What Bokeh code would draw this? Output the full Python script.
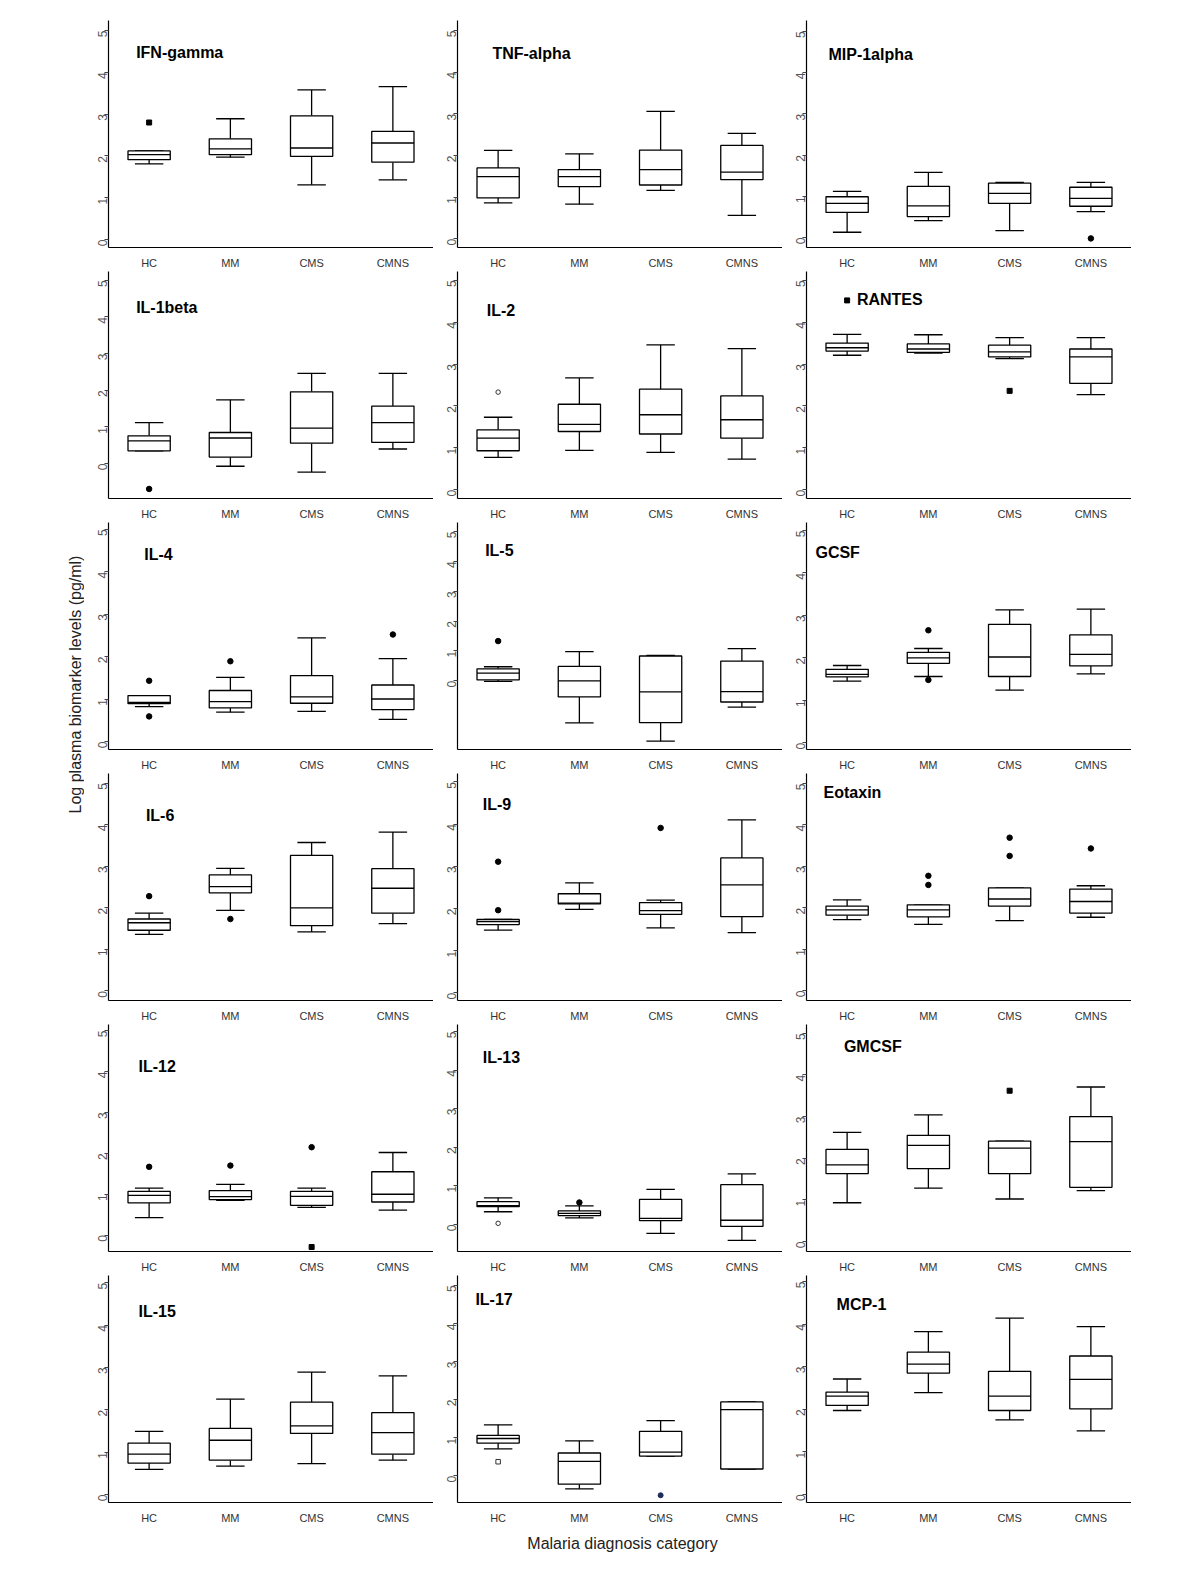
import math
from bokeh.plotting import figure
from bokeh.layouts import gridplot, column, row
from bokeh.models import Range1d, FixedTicker, Label, Spacer, ColumnDataSource
from bokeh.embed import file_html
from bokeh.resources import INLINE

# ---------------- data ----------------
categories = ["HC", "MM", "CMS", "CMNS"]
panels = ["IFN-gamma", "TNF-alpha", "MIP-1alpha",
          "IL-1beta", "IL-2", "RANTES",
          "IL-4", "IL-5", "GCSF",
          "IL-6", "IL-9", "Eotaxin",
          "IL-12", "IL-13", "GMCSF",
          "IL-15", "IL-17", "MCP-1"]
y_ticks = [0, 1, 2, 3, 4, 5]

whisker_low = [
    [1.81, 1.97, 1.31, 1.43], [0.86, 0.83, 1.16, 0.56], [0.13, 0.41, 0.17, 0.63],
    [0.35, -0.07, -0.23, 0.40], [0.77, 0.94, 0.89, 0.73], [3.21, 3.26, 3.13, 2.27],
    [0.82, 0.69, 0.71, 0.52], [-0.02, -1.41, -2.02, -0.88], [1.45, 1.56, 1.24, 1.62],
    [1.36, 1.94, 1.42, 1.62], [1.49, 1.98, 1.54, 1.43], [1.71, 1.60, 1.69, 1.77],
    [0.43, 0.85, 0.68, 0.61], [0.33, 0.17, -0.23, -0.41], [0.93, 1.28, 1.02, 1.22],
    [0.59, 0.67, 0.73, 0.81], [0.71, -0.34, 0.52, 0.18], [1.97, 2.39, 1.75, 1.49],
]
quartile1 = [
    [1.91, 2.03, 1.99, 1.85], [0.98, 1.25, 1.29, 1.42], [0.61, 0.51, 0.83, 0.76],
    [0.35, 0.18, 0.56, 0.58], [0.93, 1.39, 1.33, 1.23], [3.31, 3.28, 3.17, 2.54],
    [0.89, 0.79, 0.90, 0.75], [0.03, -0.54, -1.40, -0.71], [1.55, 1.87, 1.56, 1.81],
    [1.46, 2.36, 1.57, 1.87], [1.62, 2.11, 1.86, 1.81], [1.82, 1.78, 2.04, 1.87],
    [0.79, 0.87, 0.73, 0.81], [0.46, 0.23, 0.10, -0.05], [1.63, 1.75, 1.63, 1.30],
    [0.74, 0.81, 1.44, 0.95], [0.86, -0.22, 0.52, 0.18], [2.09, 2.85, 1.97, 2.01],
]
medians = [
    [2.03, 2.17, 2.19, 2.31], [1.49, 1.49, 1.66, 1.60], [0.83, 0.77, 1.07, 0.95],
    [0.62, 0.70, 0.97, 1.12], [1.23, 1.56, 1.79, 1.67], [3.39, 3.36, 3.29, 3.17],
    [0.92, 0.94, 1.05, 1.00], [0.26, 0.00, -0.37, -0.36], [1.61, 2.00, 2.02, 2.08],
    [1.64, 2.51, 2.00, 2.47], [1.69, 2.13, 1.95, 2.56], [1.95, 1.95, 2.21, 2.15],
    [0.97, 0.94, 0.95, 1.00], [0.49, 0.29, 0.16, 0.11], [1.84, 2.31, 2.24, 2.40],
    [0.95, 1.28, 1.62, 1.46], [0.98, 0.38, 0.62, 1.74], [2.31, 3.06, 2.31, 2.70],
]
quartile3 = [
    [2.12, 2.41, 2.96, 2.59], [1.70, 1.66, 2.13, 2.24], [0.99, 1.24, 1.32, 1.22],
    [0.76, 0.85, 1.96, 1.57], [1.43, 2.04, 2.40, 2.24], [3.50, 3.48, 3.45, 3.36],
    [1.08, 1.20, 1.55, 1.33], [0.40, 0.48, 0.83, 0.66], [1.73, 2.13, 2.79, 2.54],
    [1.73, 2.79, 3.26, 2.94], [1.74, 2.35, 2.14, 3.20], [2.04, 2.07, 2.48, 2.45],
    [1.07, 1.09, 1.07, 1.55], [0.59, 0.35, 0.65, 1.03], [2.21, 2.55, 2.41, 3.00],
    [1.21, 1.56, 2.18, 1.93], [1.06, 0.60, 1.17, 1.94], [2.40, 3.34, 2.89, 3.25],
]
whisker_high = [
    [2.12, 2.89, 3.58, 3.66], [2.12, 2.04, 3.06, 2.53], [1.12, 1.58, 1.34, 1.34],
    [1.12, 1.74, 2.46, 2.46], [1.73, 2.67, 3.46, 3.37], [3.71, 3.70, 3.63, 3.63],
    [1.08, 1.51, 2.44, 1.95], [0.47, 0.98, 0.85, 1.08], [1.82, 2.22, 3.13, 3.15],
    [1.87, 2.95, 3.57, 3.82], [1.74, 2.61, 2.20, 4.10], [2.19, 2.07, 2.48, 2.53],
    [1.15, 1.24, 1.15, 2.02], [0.69, 0.48, 0.91, 1.31], [2.62, 3.04, 2.41, 3.71],
    [1.49, 2.25, 2.89, 2.80], [1.34, 0.92, 1.45, 1.94], [2.71, 3.82, 4.14, 3.94],
]
# (panel, category, value, marker style)
outliers = [
    ("IFN-gamma", "HC", 2.80, "filled_square"),
    ("MIP-1alpha", "CMNS", -0.02, "filled_circle"),
    ("IL-1beta", "HC", -0.69, "filled_circle"),
    ("IL-2", "HC", 2.33, "open_circle"),
    ("RANTES", "HC", 4.52, "filled_square"),
    ("RANTES", "CMS", 2.36, "filled_square"),
    ("IL-4", "HC", 1.43, "filled_circle"),
    ("IL-4", "HC", 0.59, "filled_circle"),
    ("IL-4", "MM", 1.89, "filled_circle"),
    ("IL-4", "CMNS", 2.52, "filled_circle"),
    ("IL-5", "HC", 1.33, "filled_circle"),
    ("GCSF", "MM", 2.65, "filled_circle"),
    ("GCSF", "MM", 1.48, "filled_circle"),
    ("IL-6", "HC", 2.28, "filled_circle"),
    ("IL-6", "MM", 1.73, "filled_circle"),
    ("IL-9", "HC", 3.11, "filled_circle"),
    ("IL-9", "HC", 1.96, "filled_circle"),
    ("IL-9", "CMS", 3.91, "filled_circle"),
    ("Eotaxin", "MM", 2.77, "filled_circle"),
    ("Eotaxin", "MM", 2.55, "filled_circle"),
    ("Eotaxin", "CMS", 3.69, "filled_circle"),
    ("Eotaxin", "CMS", 3.25, "filled_circle"),
    ("Eotaxin", "CMNS", 3.43, "filled_circle"),
    ("IL-12", "HC", 1.67, "filled_circle"),
    ("IL-12", "MM", 1.70, "filled_circle"),
    ("IL-12", "CMS", 2.15, "filled_circle"),
    ("IL-12", "CMS", -0.29, "filled_square"),
    ("IL-13", "HC", 0.03, "open_circle"),
    ("IL-13", "MM", 0.57, "filled_circle"),
    ("GMCSF", "CMS", 3.62, "filled_square"),
    ("IL-17", "HC", 0.37, "open_square"),
    ("IL-17", "CMS", -0.51, "navy_circle"),
]

# ---------------- layout / styling ----------------
y_ranges = [(-0.19, 5.24), (-0.21, 5.24), (-0.24, 5.26),
            (-0.95, 5.24), (-0.21, 5.21), (-0.21, 5.21),
            (-0.19, 5.16), (-2.30, 5.30), (-0.16, 5.19),
            (-0.23, 5.23), (-0.18, 5.20), (-0.24, 5.24),
            (-0.40, 5.15), (-0.70, 5.18), (-0.24, 5.21),
            (-0.19, 5.17), (-0.70, 5.26), (-0.19, 5.14)]
title_pos = [(0.34, 4.48), (0.43, 4.45), (0.27, 4.43),
             (0.34, 4.27), (0.36, 4.27), (0.62, 4.53),
             (0.44, 4.41), (0.34, 4.37), (0.11, 4.48),
             (0.46, 4.23), (0.31, 4.47), (0.21, 4.79),
             (0.37, 4.13), (0.31, 4.33), (0.46, 4.69),
             (0.37, 4.32), (0.22, 4.64), (0.37, 4.47)]
marker_styles = {
    "filled_circle": dict(marker="circle", size=5.5, fill_color="black", line_color="black"),
    "filled_square": dict(marker="square", size=5, fill_color="black", line_color="black"),
    "open_circle": dict(marker="circle", size=4.5, fill_color="white", line_color="#333333"),
    "open_square": dict(marker="square", size=4.5, fill_color="white", line_color="#333333"),
    "navy_circle": dict(marker="circle", size=5, fill_color="#1f2d5a", line_color="#1f2d5a"),
}
FONT = "Liberation Sans"
BOX_W = 0.52
CAP_W = 0.35
LW = 1.3
PW, PH = 349, 251
LEFT_W = 84     # space left of the first column (incl. page offset)
TOP_H = 20      # space above the first row (incl. page offset)


def make_panel(i):
    name = panels[i]
    p = figure(width=PW, height=PH, x_range=Range1d(0.5, 4.5),
               y_range=Range1d(*y_ranges[i]), output_backend="svg",
               toolbar_location=None, min_border_left=24, min_border_right=0,
               min_border_top=0, min_border_bottom=20)
    p.grid.visible = False
    p.outline_line_color = None
    p.background_fill_color = "white"

    xs = [k + 1 for k in range(len(categories))]
    src = ColumnDataSource(dict(
        x=xs,
        xl=[x - BOX_W / 2 for x in xs], xr=[x + BOX_W / 2 for x in xs],
        cl=[x - CAP_W / 2 for x in xs], cr=[x + CAP_W / 2 for x in xs],
        wl=whisker_low[i], q1=quartile1[i], med=medians[i],
        q3=quartile3[i], wh=whisker_high[i]))

    p.segment(x0="x", y0="wl", x1="x", y1="q1", source=src, line_color="black", line_width=LW)
    p.segment(x0="x", y0="q3", x1="x", y1="wh", source=src, line_color="black", line_width=LW)
    p.segment(x0="cl", y0="wl", x1="cr", y1="wl", source=src, line_color="black", line_width=LW)
    p.segment(x0="cl", y0="wh", x1="cr", y1="wh", source=src, line_color="black", line_width=LW)
    p.vbar(x="x", width=BOX_W, bottom="q1", top="q3", source=src,
           fill_color="white", line_color="black", line_width=LW)
    p.segment(x0="xl", y0="med", x1="xr", y1="med", source=src, line_color="black", line_width=LW)

    for style, kw in marker_styles.items():
        pts = [(categories.index(c) + 1, v) for (pn, c, v, s) in outliers if pn == name and s == style]
        if pts:
            p.scatter(x=[a for a, b in pts], y=[b for a, b in pts], **kw)

    tx, ty = title_pos[i]
    p.add_layout(Label(x=0.5 + tx, y=ty, text=name, text_font=FONT, text_font_size="16px",
                       text_font_style="bold", text_color="black", text_baseline="middle"))

    # y axis
    ya = p.yaxis[0]
    ya.ticker = FixedTicker(ticks=y_ticks)
    ya.major_label_orientation = math.pi / 2
    ya.major_label_text_font = FONT
    ya.major_label_text_font_size = "12px"
    ya.major_label_text_color = "#555555"
    ya.major_tick_out = 4
    ya.major_tick_in = 0
    ya.major_tick_line_color = "#444444"
    ya.minor_tick_line_color = None
    ya.axis_line_color = "black"
    ya.axis_line_width = 1.2
    ya.major_label_standoff = 2

    # x axis
    xa = p.xaxis[0]
    xa.ticker = FixedTicker(ticks=xs)
    xa.major_label_overrides = {x: c for x, c in zip(xs, categories)}
    xa.major_label_text_font = FONT
    xa.major_label_text_font_size = "11px"
    xa.major_label_text_color = "#333333"
    xa.major_tick_line_color = None
    xa.minor_tick_line_color = None
    xa.axis_line_color = "black"
    xa.axis_line_width = 1.2
    xa.major_label_standoff = 3
    return p


figs = [make_panel(i) for i in range(len(panels))]
grid = gridplot(figs, ncols=3, toolbar_location=None)

grid_h = PH * 6
ylab = figure(width=LEFT_W, height=grid_h, x_range=Range1d(0, LEFT_W), y_range=Range1d(0, grid_h),
              output_backend="svg", toolbar_location=None, min_border=0,
              x_axis_location=None, y_axis_location=None)
ylab.grid.visible = False
ylab.outline_line_color = None
ylab.add_layout(Label(x=75, y=grid_h - 664, text="Log plasma biomarker levels (pg/ml)",
                      angle=math.pi / 2, text_align="center", text_baseline="middle",
                      text_font=FONT, text_font_size="16px", text_color="#222222"))

xlab = figure(width=LEFT_W + 3 * PW, height=40, x_range=Range1d(0, LEFT_W + 3 * PW), y_range=Range1d(0, 40),
              output_backend="svg", toolbar_location=None, min_border=0,
              x_axis_location=None, y_axis_location=None)
xlab.grid.visible = False
xlab.outline_line_color = None
xlab.add_layout(Label(x=622, y=23, text="Malaria diagnosis category",
                      text_align="center", text_baseline="middle",
                      text_font=FONT, text_font_size="16px", text_color="#222222"))

page = column(Spacer(width=10, height=TOP_H), row(ylab, grid), xlab)
open("out.html", "w").write(file_html(page, INLINE))
